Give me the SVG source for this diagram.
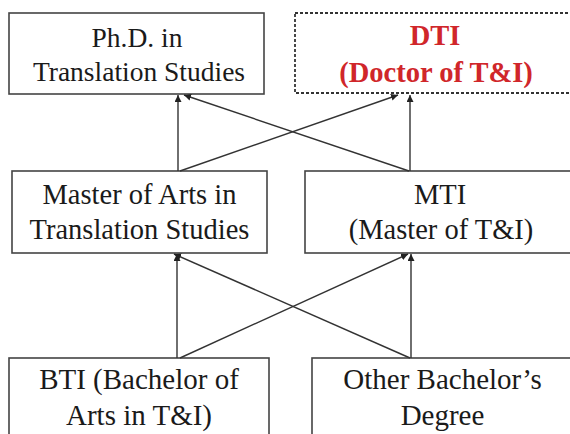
<svg xmlns="http://www.w3.org/2000/svg" width="570" height="434" viewBox="0 0 570 434">
<style>
.box{fill:#fff;stroke:#444;stroke-width:1.6}
.dash{fill:#fff;stroke:#333;stroke-width:1.8;stroke-dasharray:3 2}
.t{font-family:"Liberation Serif","Times New Roman",serif;fill:#1a1a1a;text-anchor:middle}
.r1{font-size:27.5px}
.r2{font-size:28.5px}
.r3{font-size:29px}
.red{font-family:"Liberation Serif","Times New Roman",serif;fill:#d0262a;font-weight:bold;font-size:28.5px;text-anchor:middle}
.c{stroke:#333;stroke-width:1.4;fill:none;marker-end:url(#ah)}
</style>
<defs>
<marker id="ah" viewBox="0 0 10 10" refX="10" refY="5" markerWidth="7" markerHeight="7" markerUnits="userSpaceOnUse" orient="auto">
<path d="M0,0 L10,5 L0,10 z" fill="#222"/>
</marker>
</defs>
<rect width="570" height="434" fill="#fff"/>
<g id="phd">
<rect class="box" x="9" y="13" width="255" height="81"/>
<text class="t r1" x="137" y="47">Ph.D. in</text>
<text class="t r1" x="139" y="81">Translation Studies</text>
</g>
<g id="dti">
<rect class="dash" x="295" y="13" width="282" height="80"/>
<text class="red" x="435" y="45">DTI</text>
<text class="red" x="436" y="82">(Doctor of T&amp;I)</text>
</g>
<g id="mats">
<rect class="box" x="12" y="171" width="255" height="82"/>
<text class="t r2" x="139.5" y="204">Master of Arts in</text>
<text class="t r2" x="139.5" y="239">Translation Studies</text>
</g>
<g id="mti">
<rect class="box" x="305" y="171" width="272" height="82"/>
<text class="t r2" x="440" y="204">MTI</text>
<text class="t r2" x="441" y="239">(Master of T&amp;I)</text>
</g>
<g id="bti">
<rect class="box" x="9" y="358" width="260" height="90"/>
<text class="t r3" x="139" y="389">BTI (Bachelor of</text>
<text class="t r3" x="139" y="425">Arts in T&amp;I)</text>
</g>
<g id="other">
<rect class="box" x="312" y="358" width="265" height="90"/>
<text class="t r3" x="442.5" y="389">Other Bachelor’s</text>
<text class="t r3" x="442.5" y="425">Degree</text>
</g>
<g id="connectors">
<line class="c" x1="178" y1="171" x2="178" y2="95"/>
<line class="c" x1="180" y1="171" x2="398" y2="95"/>
<line class="c" x1="410" y1="171" x2="410" y2="95"/>
<line class="c" x1="409" y1="171" x2="184" y2="95"/>
<line class="c" x1="177" y1="358" x2="177" y2="254"/>
<line class="c" x1="180" y1="358" x2="408" y2="254"/>
<line class="c" x1="411" y1="358" x2="411" y2="254"/>
<line class="c" x1="410" y1="358" x2="174" y2="254"/>
</g>
</svg>
